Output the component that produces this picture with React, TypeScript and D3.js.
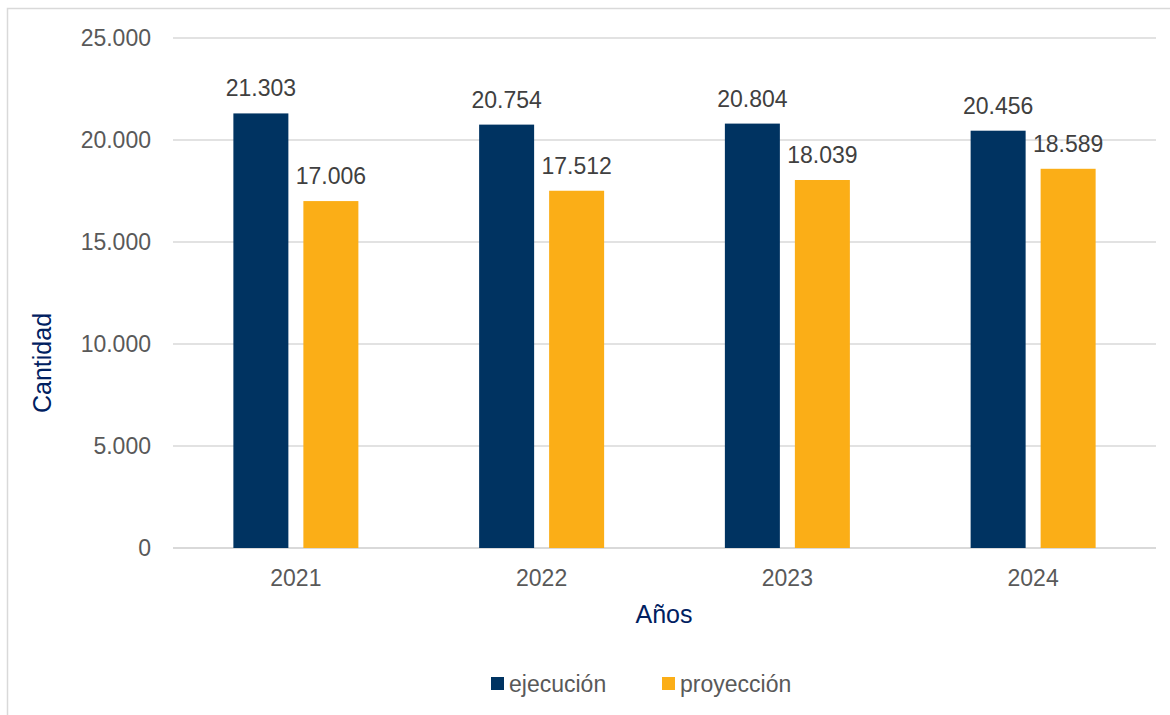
import React from 'react';
import { scaleBand, scaleLinear, format } from 'd3';

const years = ['2021', '2022', '2023', '2024'];
const series = ['ejecución', 'proyección'];
const ejecucion = [21303, 20754, 20804, 20456];
const proyeccion = [17006, 17512, 18039, 18589];
const yTicks = [0, 5000, 10000, 15000, 20000, 25000];

const colors = ['#003361', '#FBAE17'];
const W = 1170;
const H = 715;
const margin = { left: 173, right: 14, top: 38, bottom: 167 };

const fmt = (v: number) => format(',')(v).replace(/,/g, '.');

export default function App() {
  const values = [ejecucion, proyeccion];
  const x0 = scaleBand<string>()
    .domain(years)
    .range([margin.left, W - margin.right]);
  const group = 125;
  const x1 = scaleBand<string>()
    .domain(series)
    .range([(x0.bandwidth() - group) / 2, (x0.bandwidth() + group) / 2])
    .paddingInner(2 - group / 70);
  const y = scaleLinear()
    .domain([0, 25000])
    .range([H - margin.bottom, margin.top]);

  const font = '"Liberation Sans", Arial, sans-serif';

  return (
    <svg
      width={W}
      height={H}
      style={{ position: 'absolute', left: 0, top: 0, background: '#fff' }}
      fontFamily={font}
    >
      <rect x={7.5} y={8.5} width={W} height={H} fill="none" stroke="#d9d9d9" strokeWidth={1.5} />

      {yTicks.map(t => (
        <g key={t}>
          <line
            x1={margin.left}
            x2={W - margin.right}
            y1={y(t)}
            y2={y(t)}
            stroke="#d9d9d9"
            strokeWidth={t === 0 ? 2 : 1.5}
          />
          <text x={151} y={y(t)} dy="0.35em" textAnchor="end" fontSize={23} fill="#595959">
            {fmt(t)}
          </text>
        </g>
      ))}

      {years.map((yr, i) => (
        <g key={yr} transform={`translate(${x0(yr)},0)`}>
          {series.map((s, j) => {
            const v = values[j][i];
            const bx = x1(s) ?? 0;
            return (
              <g key={s}>
                <rect
                  x={bx}
                  y={y(v)}
                  width={x1.bandwidth()}
                  height={y(0) - y(v)}
                  fill={colors[j]}
                />
                <text
                  x={bx + x1.bandwidth() / 2}
                  y={y(v) - 17}
                  textAnchor="middle"
                  fontSize={23}
                  fill="#404040"
                >
                  {fmt(v)}
                </text>
              </g>
            );
          })}
          <text
            x={x0.bandwidth() / 2}
            y={586}
            textAnchor="middle"
            fontSize={23}
            fill="#595959"
          >
            {yr}
          </text>
        </g>
      ))}

      <text
        transform={`translate(51,${(y(0) + y(25000)) / 2 + 70}) rotate(-90)`}
        textAnchor="middle"
        fontSize={25}
        fill="#002060"
      >
        Cantidad
      </text>
      <text x={664} y={623} textAnchor="middle" fontSize={25} fill="#002060">
        Años
      </text>

      {series.map((s, j) => {
        const lx = j === 0 ? 491 : 662;
        return (
          <g key={s}>
            <rect x={lx} y={677} width={13} height={13} fill={colors[j]} />
            <text x={lx + 18} y={692} fontSize={23} fill="#595959">
              {s}
            </text>
          </g>
        );
      })}
    </svg>
  );
}
